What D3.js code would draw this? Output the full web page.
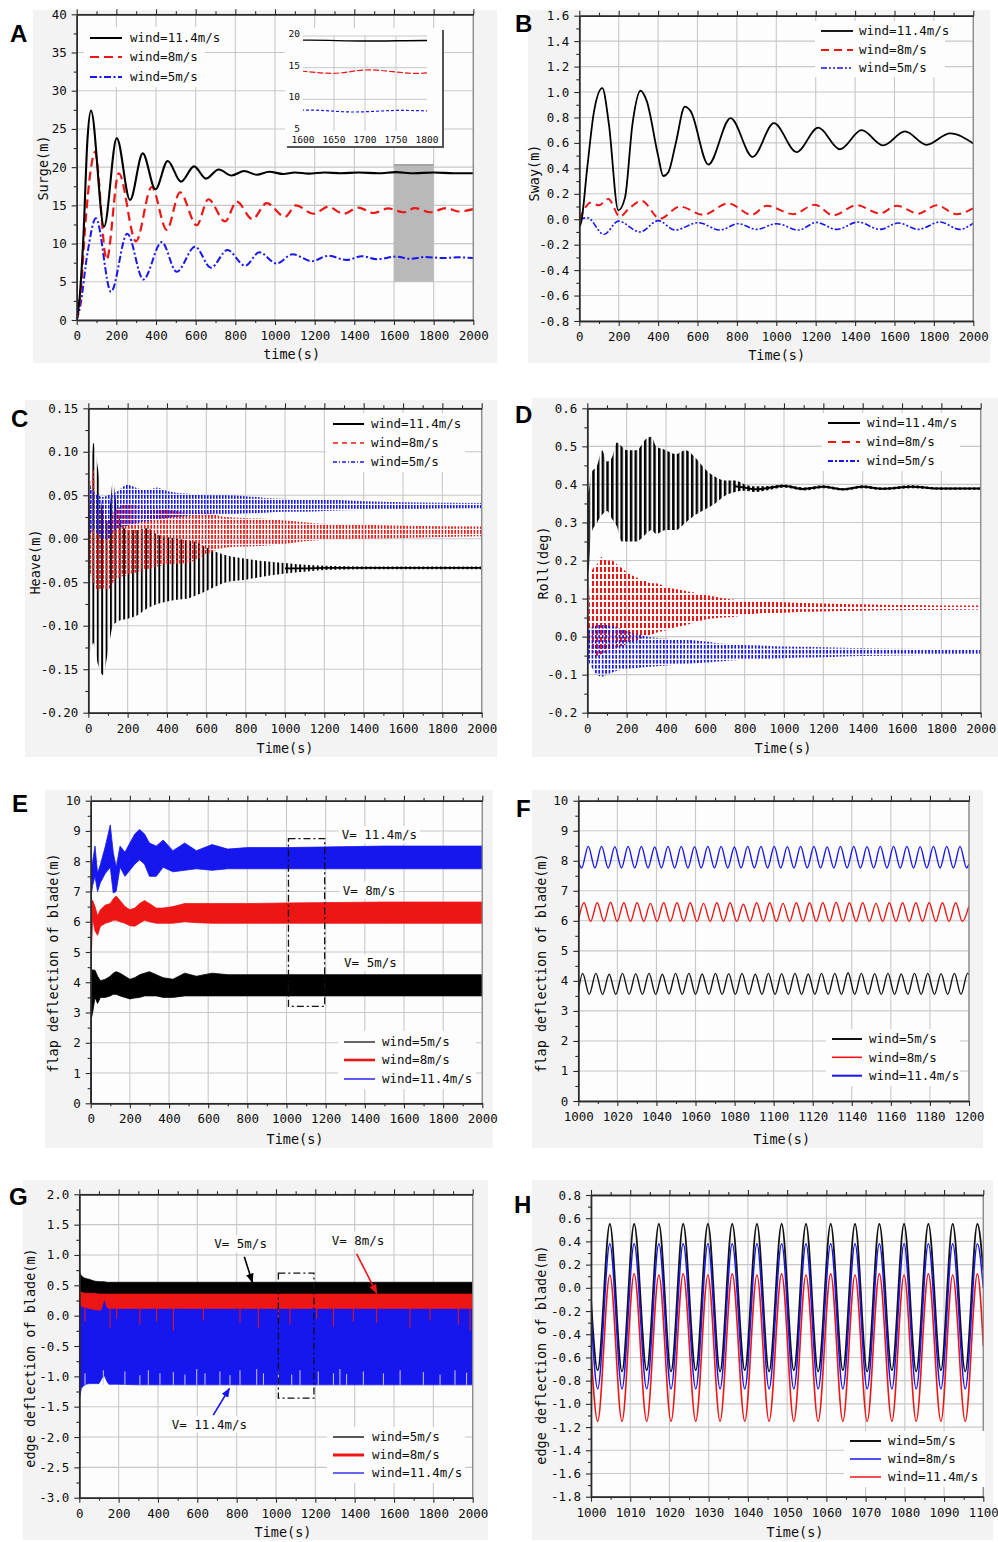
<!DOCTYPE html>
<html>
<head>
<meta charset="utf-8">
<script src="https://cdn.jsdelivr.net/npm/d3@7"></script>
<style>
  body { margin: 0; background: #fff; }
</style>
</head>
<body>
<svg width="998" height="1542"></svg>
<script>
// ---------- data ----------
const windLabels = ["wind=11.4m/s", "wind=8m/s", "wind=5m/s"];
const bladeLabels = ["wind=5m/s", "wind=8m/s", "wind=11.4m/s"];

const timeTicks = [0, 200, 400, 600, 800, 1000, 1200, 1400, 1600, 1800, 2000];
const fTimeTicks = [1000, 1020, 1040, 1060, 1080, 1100, 1120, 1140, 1160, 1180, 1200];
const hTimeTicks = [1000, 1010, 1020, 1030, 1040, 1050, 1060, 1070, 1080, 1090, 1100];
const surgeTicks = [0, 5, 10, 15, 20, 25, 30, 35, 40];
const swayTicks = [-0.8, -0.6, -0.4, -0.2, 0, 0.2, 0.4, 0.6, 0.8, 1.0, 1.2, 1.4, 1.6];
const heaveTicks = [-0.2, -0.15, -0.1, -0.05, 0, 0.05, 0.1, 0.15];
const rollTicks = [-0.2, -0.1, 0, 0.1, 0.2, 0.3, 0.4, 0.5, 0.6];
const flapTicks = [0, 1, 2, 3, 4, 5, 6, 7, 8, 9, 10];
const edgeTicks = [-3, -2.5, -2, -1.5, -1, -0.5, 0, 0.5, 1, 1.5, 2];
const edgeZoomTicks = [-1.8, -1.6, -1.4, -1.2, -1.0, -0.8, -0.6, -0.4, -0.2, 0, 0.2, 0.4, 0.6, 0.8];
const insetXTicks = [1600, 1650, 1700, 1750, 1800];
const insetYTicks = [5, 10, 15, 20];

// A: surge, [time, value] at turning points
const surge11 = [[0,0],[15,3],[34,11],[54,23.5],[72,27.4],[138,12.2],[202,23.8],[269,15.7],[333,21.8],[397,17.1],[459,20.8],[526,18.1],[592,20.1],[652,18.5],[716,19.7],[781,18.9],[845,19.5],[908,19.0],[971,19.4],[1042,19.1],[1100,19.3],[1170,19.15],[1250,19.3],[1330,19.2],[1420,19.3],[1520,19.2],[1610,19.35],[1700,19.2],[1800,19.3],[1900,19.2],[2000,19.2]];
const surge8 = [[0,0],[18,3],[45,13],[70,19.5],[92,22.0],[151,7.9],[212,19.2],[299,10.3],[378,17.4],[454,11.8],[521,16.7],[605,12.4],[664,15.8],[748,12.9],[807,15.5],[886,13.2],[958,15.3],[1050,13.5],[1106,15.0],[1193,13.9],[1269,14.8],[1345,13.9],[1420,14.7],[1496,14.0],[1571,14.6],[1647,14.1],[1706,14.65],[1782,14.1],[1865,14.65],[1924,14.2],[2000,14.5]];
const surge5 = [[0,0],[17,1.7],[54,8.7],[97,13.3],[173,3.7],[255,11.3],[336,5.3],[429,10.2],[504,6.3],[597,9.6],[677,6.85],[760,9.15],[849,7.1],[921,8.85],[1008,7.4],[1089,8.6],[1185,7.7],[1269,8.4],[1361,7.85],[1437,8.35],[1513,7.95],[1613,8.3],[1681,8.0],[1756,8.25],[1849,8.1],[1924,8.2],[2000,8.1]];

// B: sway
const sway11 = [[0,-0.06],[10,-0.02],[40,0.4],[75,0.85],[117,1.03],[150,0.75],[198,0.07],[232,0.17],[270,0.75],[311,1.01],[342,0.93],[400,0.5],[426,0.34],[452,0.37],[490,0.6],[536,0.885],[565,0.85],[655,0.43],[768,0.795],[880,0.49],[988,0.755],[1103,0.528],[1213,0.72],[1323,0.55],[1433,0.70],[1543,0.58],[1653,0.69],[1763,0.585],[1882,0.675],[2000,0.595]];
const sway8 = [[0,0],[30,0.09],[55,0.13],[100,0.11],[147,0.16],[206,0.02],[250,0.08],[316,0.145],[409,0.005],[511,0.10],[629,0.035],[756,0.125],[875,0.035],[951,0.106],[1086,0.04],[1196,0.114],[1289,0.03],[1408,0.11],[1526,0.046],[1611,0.106],[1721,0.044],[1814,0.11],[1915,0.04],[2000,0.086]];
const sway5 = [[0,0],[41,0.012],[125,-0.12],[198,-0.015],[308,-0.10],[401,-0.011],[486,-0.085],[604,-0.027],[714,-0.085],[807,-0.035],[900,-0.08],[1002,-0.035],[1112,-0.085],[1205,-0.025],[1306,-0.08],[1416,-0.022],[1526,-0.08],[1619,-0.03],[1721,-0.08],[1831,-0.022],[1932,-0.08],[2000,-0.03]];

// C: heave, envelope of the fast oscillation
const cT = [0,10,25,50,75,100,125,150,200,250,300,350,400,450,500,550,600,700,800,900,1000,1100,1200,1400,1600,2000];
const cBlackHi = [0.02,0.05,0.11,0.08,0.03,0.02,0.065,0.03,0.01,0.01,0.012,0.005,0.002,0.0,-0.002,-0.004,-0.01,-0.019,-0.023,-0.026,-0.028,-0.03,-0.031,-0.032,-0.032,-0.032];
const cBlackLo = [-0.06,-0.13,-0.12,-0.145,-0.157,-0.13,-0.10,-0.095,-0.092,-0.088,-0.08,-0.075,-0.072,-0.07,-0.069,-0.065,-0.06,-0.05,-0.047,-0.043,-0.04,-0.038,-0.036,-0.035,-0.035,-0.035];
const cRedHi = [0.03,0.06,0.08,0.03,0.04,0.02,0.03,0.035,0.04,0.038,0.035,0.035,0.033,0.032,0.03,0.03,0.03,0.025,0.024,0.023,0.021,0.019,0.017,0.016,0.015,0.014];
const cRedLo = [-0.01,-0.04,-0.05,-0.06,-0.057,-0.059,-0.05,-0.045,-0.042,-0.038,-0.035,-0.032,-0.03,-0.029,-0.028,-0.024,-0.018,-0.01,-0.009,-0.008,-0.006,-0.003,-0.001,0.0,0.001,0.003];
const cBlueHi = [0.07,0.06,0.055,0.05,0.048,0.05,0.052,0.055,0.062,0.058,0.056,0.059,0.055,0.053,0.052,0.051,0.05,0.05,0.049,0.047,0.046,0.045,0.045,0.043,0.042,0.041];
const cBlueLo = [0.0,0.005,0.01,0.005,0.0,0.0,0.008,0.012,0.015,0.018,0.02,0.022,0.024,0.025,0.026,0.027,0.027,0.028,0.029,0.03,0.031,0.031,0.032,0.033,0.034,0.035];

// D: roll envelopes
const dT = [0,5,20,50,75,100,125,150,175,200,250,300,325,350,400,450,500,550,600,650,700,750,800,850,900,1000,1100,1200,1300,1400,1500,1650,1800,2000];
const dBlackHi = [0.38,0.38,0.43,0.45,0.49,0.46,0.47,0.51,0.50,0.49,0.49,0.52,0.525,0.50,0.49,0.48,0.49,0.47,0.44,0.42,0.41,0.41,0.40,0.395,0.395,0.400,0.392,0.398,0.390,0.398,0.392,0.398,0.392,0.392];
const dBlackLo = [0.17,0.17,0.27,0.30,0.32,0.33,0.31,0.29,0.25,0.25,0.25,0.27,0.28,0.27,0.28,0.28,0.30,0.32,0.335,0.35,0.37,0.38,0.383,0.38,0.383,0.392,0.384,0.39,0.384,0.39,0.385,0.39,0.386,0.386];
const dRedHi = [0.02,0.05,0.17,0.19,0.21,0.20,0.20,0.19,0.18,0.17,0.155,0.145,0.14,0.14,0.13,0.125,0.12,0.115,0.11,0.105,0.10,0.097,0.095,0.093,0.092,0.09,0.088,0.087,0.086,0.085,0.084,0.083,0.082,0.082];
const dRedLo = [0.0,-0.01,-0.03,-0.05,-0.045,-0.04,-0.035,-0.03,-0.025,-0.02,-0.01,0.0,0.005,0.01,0.017,0.025,0.03,0.038,0.045,0.048,0.05,0.052,0.056,0.06,0.062,0.063,0.065,0.066,0.067,0.068,0.069,0.07,0.07,0.071];
const dBlueHi = [0.02,0.02,0.025,0.03,0.035,0.03,0.028,0.025,0.02,0.015,0.008,0.0,-0.002,-0.003,-0.005,-0.007,-0.008,-0.01,-0.013,-0.016,-0.019,-0.021,-0.022,-0.023,-0.024,-0.026,-0.027,-0.028,-0.029,-0.03,-0.031,-0.032,-0.033,-0.034];
const dBlueLo = [0.0,-0.06,-0.08,-0.10,-0.105,-0.10,-0.095,-0.09,-0.088,-0.085,-0.083,-0.08,-0.079,-0.078,-0.076,-0.074,-0.072,-0.07,-0.068,-0.066,-0.064,-0.062,-0.061,-0.06,-0.059,-0.057,-0.055,-0.054,-0.052,-0.051,-0.05,-0.049,-0.048,-0.048];

// E: flap deflection envelopes
const eT = [0,3,10,22,35,50,75,100,115,130,150,175,200,225,250,275,300,335,370,420,480,540,620,700,800,1000,1500,2000];
const eBlueHi = [0,7.7,8.0,8.5,7.6,7.9,8.5,9.2,8.3,7.8,8.5,8.3,8.6,8.9,9.05,8.9,8.6,8.5,8.7,8.35,8.6,8.35,8.55,8.4,8.45,8.45,8.5,8.5];
const eBlueLo = [0,6.9,7.2,7.5,7.0,7.3,7.6,7.8,6.95,7.0,7.8,7.5,7.7,7.9,8.05,7.9,7.5,7.5,7.8,7.65,7.7,7.75,7.7,7.75,7.75,7.75,7.75,7.75];
const eRedHi = [0,6.7,6.7,6.5,6.2,6.4,6.55,6.6,6.75,6.85,6.7,6.5,6.4,6.45,6.6,6.7,6.6,6.45,6.45,6.5,6.6,6.6,6.6,6.6,6.6,6.62,6.65,6.65];
const eRedLo = [0,4.9,6.1,5.7,5.55,5.85,5.95,6.0,6.05,6.05,6.0,5.95,5.87,5.85,5.95,6.05,6.0,5.95,5.95,5.95,6.0,5.97,5.95,5.95,5.95,5.95,5.95,5.95];
const eBlackHi = [0,4.45,4.4,4.4,4.2,4.05,4.1,4.2,4.3,4.35,4.3,4.2,4.1,4.15,4.25,4.3,4.35,4.25,4.15,4.1,4.3,4.2,4.3,4.25,4.25,4.25,4.25,4.25];
const eBlackLo = [0,2.8,3.0,3.5,3.3,3.5,3.5,3.55,3.6,3.6,3.55,3.5,3.45,3.48,3.5,3.55,3.55,3.55,3.5,3.5,3.55,3.55,3.55,3.55,3.55,3.55,3.55,3.55];
const eAnnot = ["V= 11.4m/s", "V= 8m/s", "V= 5m/s"];

// F: flap deflection 1000-1200 s, turning points
const fBlack = [[1000,3.6],[1002.2,4.25],[1005.6,3.55],[1009.0,4.25],[1012.4,3.55],[1015.8,4.22],[1019.2,3.55],[1022.6,4.25],[1026.0,3.55],[1029.4,4.24],[1032.8,3.55],[1036.2,4.25],[1039.6,3.55],[1043.0,4.22],[1046.4,3.56],[1049.8,4.25],[1053.2,3.55],[1056.6,4.25],[1060.0,3.55],[1063.4,4.23],[1066.8,3.55],[1070.2,4.25],[1073.6,3.55],[1077.0,4.24],[1080.4,3.55],[1083.8,4.25],[1087.2,3.55],[1090.6,4.22],[1094.0,3.55],[1097.3,4.25],[1100.7,3.55],[1104.1,4.24],[1107.5,3.55],[1110.9,4.25],[1114.3,3.55],[1117.7,4.23],[1121.1,3.55],[1124.5,4.25],[1127.9,3.55],[1131.3,4.25],[1134.7,3.55],[1138.1,4.27],[1141.5,3.55],[1144.9,4.25],[1148.3,3.55],[1151.7,4.24],[1155.1,3.55],[1158.5,4.25],[1161.9,3.55],[1165.3,4.23],[1168.7,3.55],[1172.1,4.25],[1175.5,3.55],[1178.9,4.25],[1182.3,3.55],[1185.7,4.24],[1189.1,3.55],[1192.5,4.25],[1195.9,3.55],[1199.3,4.25],[1200,4.2]];
const fRed = [[1000,6.0],[1002.9,6.6],[1006.3,5.98],[1009.7,6.6],[1013.1,5.98],[1016.5,6.62],[1019.9,5.98],[1023.3,6.6],[1026.7,5.98],[1030.1,6.6],[1033.5,5.98],[1036.9,6.58],[1040.3,5.98],[1043.7,6.6],[1047.1,5.98],[1050.5,6.6],[1053.9,5.98],[1057.3,6.6],[1060.7,5.98],[1064.1,6.58],[1067.5,5.98],[1070.9,6.6],[1074.3,5.98],[1077.7,6.6],[1081.1,5.98],[1084.5,6.55],[1087.9,5.98],[1091.3,6.6],[1094.7,5.98],[1098.0,6.6],[1101.4,5.98],[1104.8,6.58],[1108.2,5.98],[1111.6,6.6],[1115.0,5.98],[1118.4,6.6],[1121.8,5.98],[1125.2,6.6],[1128.6,5.98],[1132.0,6.62],[1135.4,5.98],[1138.8,6.6],[1142.2,5.98],[1145.6,6.6],[1149.0,5.98],[1152.4,6.58],[1155.8,5.98],[1159.2,6.6],[1162.6,5.98],[1166.0,6.6],[1169.4,5.98],[1172.8,6.6],[1176.2,5.98],[1179.6,6.6],[1183.0,5.98],[1186.4,6.6],[1189.8,5.98],[1193.2,6.6],[1196.6,5.98],[1200,6.5]];
const fBlue = [[1000,7.98],[1001.7,7.76],[1005.1,8.48],[1008.5,7.76],[1011.9,8.48],[1015.3,7.76],[1018.7,8.47],[1022.1,7.76],[1025.5,8.48],[1028.9,7.76],[1032.3,8.48],[1035.7,7.76],[1039.1,8.46],[1042.5,7.76],[1045.9,8.48],[1049.3,7.76],[1052.7,8.48],[1056.1,7.76],[1059.5,8.47],[1062.9,7.76],[1066.3,8.48],[1069.7,7.76],[1073.1,8.48],[1076.5,7.76],[1079.9,8.46],[1083.3,7.76],[1086.7,8.48],[1090.1,7.76],[1093.5,8.48],[1096.9,7.76],[1100.3,8.48],[1103.6,7.76],[1107.0,8.47],[1110.4,7.76],[1113.8,8.48],[1117.2,7.76],[1120.6,8.48],[1124.0,7.76],[1127.4,8.46],[1130.8,7.76],[1134.2,8.48],[1137.6,7.76],[1141.0,8.48],[1144.4,7.76],[1147.8,8.47],[1151.2,7.76],[1154.6,8.48],[1158.0,7.76],[1161.4,8.48],[1164.8,7.76],[1168.2,8.48],[1171.6,7.76],[1175.0,8.47],[1178.4,7.76],[1181.8,8.48],[1185.2,7.76],[1188.6,8.48],[1192.0,7.76],[1195.4,8.48],[1198.8,7.76],[1200,7.9]];

// G: edge deflection envelopes
const gT = [0,3,10,20,35,50,75,100,112,127,140,150,200,300,500,1000,2000];
const gBlackHi = [0.75,0.70,0.66,0.63,0.61,0.60,0.57,0.56,0.56,0.56,0.55,0.55,0.55,0.55,0.55,0.55,0.55];
const gBlackLo = [0.45,0.42,0.40,0.39,0.38,0.38,0.38,0.37,0.37,0.37,0.37,0.37,0.37,0.37,0.37,0.37,0.37];
const gRedHi = [0.48,0.45,0.43,0.41,0.40,0.39,0.39,0.385,0.385,0.385,0.38,0.38,0.38,0.38,0.38,0.38,0.38];
const gRedLo = [0.3,0.2,0.16,0.14,0.13,0.12,0.10,0.09,0.1,0.28,0.14,0.12,0.12,0.12,0.12,0.12,0.12];
const gBlueHi = [0.45,0.42,0.4,0.39,0.38,0.38,0.38,0.38,0.38,0.38,0.38,0.38,0.38,0.38,0.38,0.38,0.38];
const gBlueLo = [-1.4,-1.32,-1.2,-1.16,-1.13,-1.12,-1.12,-1.12,-1.05,-0.98,-1.08,-1.13,-1.13,-1.14,-1.14,-1.14,-1.14];
const gLightSpikeT = [29,122,232,308,351,410,478,537,597,639,715,766,817,902,936,1012,1080,1122,1215,1292,1325,1359,1444,1546,1631,1749,1834,1910,1969];
const gLightSpikeTop = [-0.95,-0.9,-0.92,-0.98,-0.9,-0.95,-0.93,-0.97,-0.88,-0.95,-0.92,-0.98,-0.9,-0.88,-0.95,-0.93,-0.97,-0.9,-0.92,-0.95,-0.88,-0.96,-0.92,-0.95,-0.9,-0.93,-0.97,-0.9,-0.94];
const gRedSpikeT = [29,156,190,308,393,478,631,817,910,1012,1071,1207,1292,1393,1512,1681,1783,1927,1986];
const gRedSpikeLow = [-0.1,-0.2,-0.05,-0.15,-0.1,-0.25,-0.08,-0.12,-0.2,-0.1,-0.15,-0.05,-0.18,-0.1,-0.12,-0.2,-0.08,-0.15,-0.25];
const gAnnot = ["V= 5m/s", "V= 8m/s", "V= 11.4m/s"];

// H: edge deflection 1000-1100 s, peaks and troughs
const hPeakT = [1004.8,1011.0,1017.3,1023.5,1029.8,1036.0,1042.3,1048.6,1054.8,1061.1,1067.3,1073.5,1079.8,1086.0,1092.2,1098.5];
const hTroughT = [1001.7,1007.9,1014.2,1020.4,1026.7,1032.9,1039.2,1045.4,1051.7,1057.9,1064.2,1070.4,1076.7,1082.9,1089.2,1095.4];
const hBlackPeak = [0.55,0.55,0.55,0.55,0.55,0.55,0.55,0.55,0.55,0.55,0.55,0.55,0.55,0.55,0.55,0.55];
const hBlackTrough = [-0.71,-0.72,-0.71,-0.72,-0.71,-0.72,-0.71,-0.72,-0.71,-0.72,-0.71,-0.72,-0.71,-0.72,-0.71,-0.72];
const hBluePeak = [0.38,0.38,0.38,0.38,0.38,0.38,0.38,0.38,0.38,0.38,0.38,0.38,0.38,0.38,0.38,0.38];
const hBlueTrough = [-0.87,-0.87,-0.87,-0.87,-0.87,-0.87,-0.87,-0.87,-0.87,-0.87,-0.87,-0.87,-0.87,-0.87,-0.87,-0.87];
const hRedPeak = [0.11,0.12,0.11,0.12,0.11,0.12,0.11,0.12,0.11,0.12,0.11,0.12,0.11,0.12,0.11,0.12];
const hRedTrough = [-1.15,-1.15,-1.15,-1.15,-1.15,-1.15,-1.15,-1.15,-1.15,-1.15,-1.15,-1.15,-1.15,-1.15,-1.15,-1.15];
const hBlackEnds = [-0.1, 0.15];
const hBlueEnds = [-0.2, 0.0];
const hRedEnds = [-0.55, -0.5];

// ---------- drawing ----------
const MONO = '"DejaVu Sans Mono", "Liberation Mono", monospace';
const BLACK = "#000000", RED = "#ee1515", BLUE = "#1616ee";
const INK = "#0d0d0d";
const svg = d3.select("svg");
const defs = svg.append("defs");

const fmt = f => d => d3.format(f)(d).replace("\u2212", "-");
const minorOf = t => t.slice(1).map((v, i) => (v + t[i]) / 2);

function makePanel(p) {
  const g = svg.append("g");
  g.append("rect").attr("x", p.bg[0]).attr("y", p.bg[1])
    .attr("width", p.bg[2] - p.bg[0]).attr("height", p.bg[3] - p.bg[1])
    .attr("fill", "#f3f3f3");
  const x = d3.scaleLinear().domain(p.xDomain).range([p.left, p.right]);
  const y = d3.scaleLinear().domain(p.yDomain).range([p.bottom, p.top]);
  g.append("rect").attr("x", p.left).attr("y", p.top)
    .attr("width", p.right - p.left).attr("height", p.bottom - p.top)
    .attr("fill", "#fdfdfd");

  const grid = g.append("g").attr("stroke", "#c8c8c8").attr("stroke-width", 1.1);
  grid.selectAll(".gx").data(p.xTicks).join("line").attr("class", "gx")
    .attr("x1", d => x(d)).attr("x2", d => x(d)).attr("y1", p.top).attr("y2", p.bottom);
  grid.selectAll(".gy").data(p.yTicks).join("line").attr("class", "gy")
    .attr("y1", d => y(d)).attr("y2", d => y(d)).attr("x1", p.left).attr("x2", p.right);

  const cid = "clip" + p.letter;
  defs.append("clipPath").attr("id", cid).append("rect")
    .attr("x", p.left).attr("y", p.top).attr("width", p.right - p.left).attr("height", p.bottom - p.top);
  const plot = g.append("g").attr("clip-path", `url(#${cid})`);

  const axes = g.append("g");
  function ax(fn, scale, vals, size, format, tr, pad) {
    const a = axes.append("g").attr("transform", tr)
      .call(fn(scale).tickValues(vals).tickSize(size).tickSizeOuter(0).tickPadding(pad)
        .tickFormat(format || (() => "")));
    a.select(".domain").attr("stroke", "#2a2a2a").attr("stroke-width", 1.4);
    a.selectAll(".tick line").attr("stroke", "#2a2a2a").attr("stroke-width", 1.1);
    a.selectAll("text").attr("font-family", MONO).attr("font-size", 12.5).attr("fill", INK);
  }
  axes.append("line").attr("x1", p.right).attr("x2", p.right).attr("y1", p.top).attr("y2", p.bottom)
    .attr("stroke", "#8a8a8a").attr("stroke-width", 1.3);
  ax(d3.axisBottom, x, minorOf(p.xTicks), 3, null, `translate(0,${p.bottom})`, 4);
  ax(d3.axisBottom, x, p.xTicks, 5, p.xFmt, `translate(0,${p.bottom})`, 6);
  ax(d3.axisTop, x, minorOf(p.xTicks), 3, null, `translate(0,${p.top})`, 4);
  ax(d3.axisTop, x, p.xTicks, 5, null, `translate(0,${p.top})`, 4);
  ax(d3.axisLeft, y, minorOf(p.yTicks), 3, null, `translate(${p.left},0)`, 4);
  ax(d3.axisLeft, y, p.yTicks, 5, p.yFmt, `translate(${p.left},0)`, 5);

  g.append("text").attr("x", p.xTitle[0]).attr("y", p.xTitle[1]).attr("dy", "0.35em")
    .attr("text-anchor", "middle").attr("font-family", MONO).attr("font-size", 13.5)
    .attr("fill", INK).text(p.xLabel);
  g.append("text").attr("transform", `translate(${p.yTitle[0]},${p.yTitle[1]}) rotate(-90)`)
    .attr("dy", "0.35em").attr("text-anchor", "middle").attr("font-family", MONO)
    .attr("font-size", 13.5).attr("fill", INK).text(p.yLabel);
  g.append("text").attr("x", p.letterPos[0]).attr("y", p.letterPos[1])
    .attr("font-family", '"Liberation Sans", Arial, sans-serif').attr("font-weight", "bold")
    .attr("font-size", 24).attr("fill", "#000").text(p.letter);
  return { g, plot, x, y };
}

function drawLine(P, data, color, width, dash, target) {
  const line = d3.line().x(d => P.x(d[0])).y(d => P.y(d[1])).curve(d3.curveMonotoneX);
  (target || P.plot).append("path").datum(data).attr("d", line)
    .attr("fill", "none").attr("stroke", color).attr("stroke-width", width)
    .attr("stroke-linejoin", "round").attr("stroke-dasharray", dash || null);
}

function drawBand(P, t, hi, lo, fill, curve, edge) {
  const rows = t.map((d, i) => ({ t: d, hi: hi[i], lo: lo[i] }));
  const area = d3.area().x(d => P.x(d.t)).y0(d => P.y(d.lo)).y1(d => P.y(d.hi))
    .curve(curve || d3.curveLinear);
  const path = P.plot.append("path").datum(rows).attr("d", area).attr("fill", fill);
  if (edge) path.attr("stroke", edge).attr("stroke-width", 0.8);
  return rows;
}

// settled part of a band: a thin line through its middle
function drawMid(P, rows, color, width, fromT) {
  const line = d3.line().x(d => P.x(d.t)).y(d => P.y((d.hi + d.lo) / 2)).curve(d3.curveMonotoneX);
  P.plot.append("path").datum(rows.filter(d => d.t >= fromT)).attr("d", line).attr("fill", "none")
    .attr("stroke", color).attr("stroke-width", width);
}

function legend(g, box, x0, x1, xt, ys, items) {
  g.append("rect").attr("x", box[0]).attr("y", box[1])
    .attr("width", box[2] - box[0]).attr("height", box[3] - box[1]).attr("fill", "#fdfdfd");
  items.forEach((it, i) => {
    g.append("line").attr("x1", x0).attr("x2", x1).attr("y1", ys[i]).attr("y2", ys[i])
      .attr("stroke", it.color).attr("stroke-width", it.width).attr("stroke-dasharray", it.dash || null);
    g.append("text").attr("x", xt).attr("y", ys[i]).attr("dy", "0.35em")
      .attr("font-family", MONO).attr("font-size", 12.5).attr("fill", INK).text(it.label);
  });
}

function note(P, t, v, label) {
  const txt = P.g.append("text").attr("x", P.x(t)).attr("y", P.y(v)).attr("dy", "0.35em")
    .attr("font-family", MONO).attr("font-size", 12.5).attr("fill", INK).text(label);
  const b = txt.node().getBBox();
  P.g.insert("rect", () => txt.node()).attr("x", b.x - 3).attr("y", b.y - 1)
    .attr("width", b.width + 6).attr("height", b.height + 2).attr("fill", "#fdfdfd");
}

function stripes(id, color, w, sw, h, dh) {
  const pat = defs.append("pattern").attr("id", id).attr("patternUnits", "userSpaceOnUse")
    .attr("width", w).attr("height", h);
  pat.append("rect").attr("x", 0).attr("y", 0).attr("width", sw).attr("height", dh).attr("fill", color);
}
stripes("cBlackS", BLACK, 4.4, 1.9, 10, 10);
stripes("cRedS", RED, 3.2, 1.6, 5, 3.8);
stripes("cBlueS", BLUE, 3.0, 1.6, 5, 3.8);
stripes("dBlackS", BLACK, 4.7, 2.5, 10, 10);
stripes("dRedS", RED, 4.0, 2.0, 7, 5);
stripes("dBlueS", BLUE, 3.4, 1.7, 5, 3.6);

function arrowMarker(id, color) {
  defs.append("marker").attr("id", id).attr("viewBox", "0 0 10 10").attr("refX", 9).attr("refY", 5)
    .attr("markerWidth", 6).attr("markerHeight", 6).attr("orient", "auto")
    .append("path").attr("d", "M0,1L10,5L0,9z").attr("fill", color);
}
arrowMarker("arrK", BLACK);
arrowMarker("arrR", RED);
arrowMarker("arrB", BLUE);

const timeFmt = d => String(d);

// ---------- A ----------
const A = makePanel({ letter: "A", letterPos: [10, 42], bg: [33, 10, 497, 363],
  left: 76.7, right: 473.3, top: 14.3, bottom: 320,
  xDomain: [0, 2000], yDomain: [0, 40], xTicks: timeTicks, yTicks: surgeTicks,
  xFmt: timeFmt, yFmt: d => String(d), xLabel: "time(s)", yLabel: "Surge(m)",
  xTitle: [291.7, 354], yTitle: [43, 168] });
A.plot.append("rect").attr("x", A.x(1600)).attr("width", A.x(1800) - A.x(1600))
  .attr("y", A.y(20.3)).attr("height", A.y(5) - A.y(20.3)).attr("fill", "#b9b9b9");
A.plot.append("line").attr("x1", A.x(1600)).attr("x2", A.x(1800)).attr("y1", A.y(20.3)).attr("y2", A.y(20.3))
  .attr("stroke", "#8c8c8c").attr("stroke-width", 1.2);
drawLine(A, surge5, BLUE, 2, "7,2.5,2,2.5");
drawLine(A, surge8, RED, 2.2, "9,5");
drawLine(A, surge11, BLACK, 2.1);
legend(A.g, [84, 27, 205, 87], 90, 122, 130, [38, 57, 77], [
  { label: windLabels[0], color: BLACK, width: 2 },
  { label: windLabels[1], color: RED, width: 2, dash: "9,5" },
  { label: windLabels[2], color: BLUE, width: 2, dash: "7,2.5,2,2.5" }]);

// inset
{
  const ig = A.g.append("g");
  ig.append("rect").attr("x", 287).attr("y", 30).attr("width", 157).attr("height", 118).attr("fill", "#555");
  ig.append("rect").attr("x", 285).attr("y", 28).attr("width", 157).attr("height", 118).attr("fill", "#fdfdfd");
  const xi = d3.scaleLinear().domain([1600, 1800]).range([303, 427]);
  const yi = d3.scaleLinear().domain([5, 20]).range([131, 36]);
  ig.selectAll(".ivx").data(insetXTicks.slice(1, -1)).join("line").attr("class", "ivx")
    .attr("x1", d => xi(d)).attr("x2", d => xi(d)).attr("y1", 36).attr("y2", 131)
    .attr("stroke", "#c8c8c8");
  ig.selectAll(".ihy").data(insetYTicks.slice(1)).join("line").attr("class", "ihy")
    .attr("y1", d => yi(d)).attr("y2", d => yi(d)).attr("x1", 303).attr("x2", 427)
    .attr("stroke", "#c8c8c8");
  ig.selectAll(".ixl").data(insetXTicks).join("text").attr("class", "ixl")
    .attr("x", d => xi(d)).attr("y", 140).attr("dy", "0.35em").attr("text-anchor", "middle")
    .attr("font-family", MONO).attr("font-size", 9.5).attr("fill", INK).text(d => d);
  ig.selectAll(".iyl").data(insetYTicks).join("text").attr("class", "iyl")
    .attr("x", 300).attr("y", d => yi(d)).attr("dy", "0.1em").attr("text-anchor", "end")
    .attr("font-family", MONO).attr("font-size", 9.5).attr("fill", INK).text(d => d);
  defs.append("clipPath").attr("id", "clipInset").append("rect")
    .attr("x", 303).attr("y", 30).attr("width", 124).attr("height", 105);
  const ip = ig.append("g").attr("clip-path", "url(#clipInset)");
  const IP = { x: xi, y: yi, plot: ip };
  drawLine(IP, surge11, BLACK, 1.4);
  drawLine(IP, surge8, RED, 1.2, "6,2");
  drawLine(IP, surge5, BLUE, 1.2, "3,2");
}

// ---------- B ----------
const B = makePanel({ letter: "B", letterPos: [515, 32], bg: [528, 10, 990, 363],
  left: 579.3, right: 973.3, top: 15.7, bottom: 321,
  xDomain: [0, 2000], yDomain: [-0.8, 1.6], xTicks: timeTicks, yTicks: swayTicks,
  xFmt: timeFmt, yFmt: fmt(".1f"), xLabel: "Time(s)", yLabel: "Sway(m)",
  xTitle: [776.7, 355], yTitle: [534, 173] });
drawLine(B, sway5, BLUE, 1.6, "6,2,2,2,2,2");
drawLine(B, sway8, RED, 2, "8,5");
drawLine(B, sway11, BLACK, 1.8);
legend(B.g, [815, 21, 945, 77], 821, 853, 859, [31, 50, 68], [
  { label: windLabels[0], color: BLACK, width: 1.8 },
  { label: windLabels[1], color: RED, width: 2, dash: "8,5" },
  { label: windLabels[2], color: BLUE, width: 1.6, dash: "6,2,2,2,2,2" }]);

// ---------- C ----------
const C = makePanel({ letter: "C", letterPos: [11, 427], bg: [25, 400, 497, 757],
  left: 88.3, right: 481.7, top: 408.3, bottom: 712.7,
  xDomain: [0, 2000], yDomain: [-0.2, 0.15], xTicks: timeTicks, yTicks: heaveTicks,
  xFmt: timeFmt, yFmt: fmt(".2f"), xLabel: "Time(s)", yLabel: "Heave(m)",
  xTitle: [285, 748], yTitle: [35, 562] });
const cbk = drawBand(C, cT, cBlackHi, cBlackLo, "url(#cBlackS)", d3.curveMonotoneX);
drawMid(C, cbk, BLACK, 1.6, 1000);
drawBand(C, cT, cRedHi, cRedLo, "url(#cRedS)", d3.curveMonotoneX);
drawBand(C, cT, cBlueHi, cBlueLo, "url(#cBlueS)", d3.curveMonotoneX);
legend(C.g, [326, 413, 465, 472], 333, 364, 371, [424, 443, 462], [
  { label: windLabels[0], color: BLACK, width: 2 },
  { label: windLabels[1], color: RED, width: 1.3, dash: "5,4" },
  { label: windLabels[2], color: BLUE, width: 1.3, dash: "4,2,1,2" }]);

// ---------- D ----------
const D = makePanel({ letter: "D", letterPos: [515, 423], bg: [532, 398, 998, 757],
  left: 587.3, right: 980.7, top: 408.3, bottom: 712.7,
  xDomain: [0, 2000], yDomain: [-0.2, 0.6], xTicks: timeTicks, yTicks: rollTicks,
  xFmt: timeFmt, yFmt: fmt(".1f"), xLabel: "Time(s)", yLabel: "Roll(deg)",
  xTitle: [783, 748], yTitle: [543, 563] });
const dbk = drawBand(D, dT, dBlackHi, dBlackLo, "url(#dBlackS)", d3.curveMonotoneX);
drawMid(D, dbk, BLACK, 2, 750);
drawBand(D, dT, dRedHi, dRedLo, "url(#dRedS)", d3.curveMonotoneX);
drawBand(D, dT, dBlueHi, dBlueLo, "url(#dBlueS)", d3.curveMonotoneX);
legend(D.g, [822, 413, 960, 471], 828, 860, 867, [423, 442, 461], [
  { label: windLabels[0], color: BLACK, width: 2 },
  { label: windLabels[1], color: RED, width: 2, dash: "8,6" },
  { label: windLabels[2], color: BLUE, width: 2, dash: "5,2,2,2" }]);

// ---------- E ----------
const E = makePanel({ letter: "E", letterPos: [12, 812], bg: [45, 790, 493, 1148],
  left: 90.7, right: 482.3, top: 800.7, bottom: 1103.3,
  xDomain: [0, 2000], yDomain: [0, 10], xTicks: timeTicks, yTicks: flapTicks,
  xFmt: timeFmt, yFmt: d => String(d), xLabel: "Time(s)", yLabel: "flap deflection of blade(m)",
  xTitle: [295, 1139], yTitle: [53, 963] });
drawBand(E, eT, eBlackHi, eBlackLo, BLACK, d3.curveLinear, BLACK);
drawBand(E, eT, eRedHi, eRedLo, RED, d3.curveLinear, RED);
drawBand(E, eT, eBlueHi, eBlueLo, BLUE, d3.curveLinear, BLUE);
E.g.append("rect").attr("x", E.x(1010)).attr("width", E.x(1195) - E.x(1010))
  .attr("y", E.y(8.75)).attr("height", E.y(3.2) - E.y(8.75))
  .attr("fill", "none").attr("stroke", "#111").attr("stroke-width", 1.3).attr("stroke-dasharray", "7,3,2,3");
note(E, 1282, 8.87, eAnnot[0]);
note(E, 1287, 7.03, eAnnot[1]);
note(E, 1294, 4.64, eAnnot[2]);
legend(E.g, [338, 1031, 476, 1089], 344, 375, 382, [1042, 1060, 1079], [
  { label: bladeLabels[0], color: BLACK, width: 1.2 },
  { label: bladeLabels[1], color: RED, width: 2.6 },
  { label: bladeLabels[2], color: BLUE, width: 1.4 }]);

// ---------- F ----------
const F = makePanel({ letter: "F", letterPos: [516, 817], bg: [532, 790, 983, 1148],
  left: 578.3, right: 969, top: 800.7, bottom: 1101,
  xDomain: [1000, 1200], yDomain: [0, 10], xTicks: fTimeTicks, yTicks: flapTicks,
  xFmt: timeFmt, yFmt: d => String(d), xLabel: "Time(s)", yLabel: "flap deflection of blade(m)",
  xTitle: [781.7, 1139], yTitle: [541.7, 963] });
drawLine(F, fBlack, "#111", 1.4);
drawLine(F, fRed, RED, 1.4);
drawLine(F, fBlue, BLUE, 1.4);
legend(F.g, [826, 1029, 960, 1086], 832, 862, 869, [1039, 1057.3, 1075.7], [
  { label: bladeLabels[0], color: "#111", width: 2 },
  { label: bladeLabels[1], color: RED, width: 1.6 },
  { label: bladeLabels[2], color: BLUE, width: 2 }]);

// ---------- G ----------
const G = makePanel({ letter: "G", letterPos: [9, 1205], bg: [23, 1180, 488, 1540],
  left: 79.3, right: 472.7, top: 1194.3, bottom: 1497.7,
  xDomain: [0, 2000], yDomain: [-3, 2], xTicks: timeTicks, yTicks: edgeTicks,
  xFmt: timeFmt, yFmt: fmt(".1f"), xLabel: "Time(s)", yLabel: "edge deflection of blade(m)",
  xTitle: [283, 1532.7], yTitle: [30.7, 1358] });
drawBand(G, gT, gBlueHi, gBlueLo, BLUE, d3.curveLinear, BLUE);
G.plot.selectAll(".ls").data(gLightSpikeT).join("line").attr("class", "ls")
  .attr("x1", d => G.x(d)).attr("x2", d => G.x(d))
  .attr("y1", G.y(-1.14)).attr("y2", (d, i) => G.y(gLightSpikeTop[i]))
  .attr("stroke", "#c9c9ee").attr("stroke-width", 1);
drawBand(G, gT, gRedHi, gRedLo, RED, d3.curveLinear, RED);
G.plot.selectAll(".rs").data(gRedSpikeT).join("line").attr("class", "rs")
  .attr("x1", d => G.x(d)).attr("x2", d => G.x(d))
  .attr("y1", G.y(0.12)).attr("y2", (d, i) => G.y(gRedSpikeLow[i]))
  .attr("stroke", RED).attr("stroke-width", 1);
drawBand(G, gT, gBlackHi, gBlackLo, BLACK, d3.curveLinear, BLACK);
G.g.append("rect").attr("x", G.x(1012)).attr("width", G.x(1193) - G.x(1012))
  .attr("y", G.y(0.70)).attr("height", G.y(-1.36) - G.y(0.70))
  .attr("fill", "none").attr("stroke", "#111").attr("stroke-width", 1.3).attr("stroke-dasharray", "7,3,2,3");
note(G, 686, 1.18, gAnnot[0]);
note(G, 1283, 1.24, gAnnot[1]);
note(G, 470, -1.79, gAnnot[2]);
const arrow = (t0, v0, t1, v1, color, mid) => G.g.append("line")
  .attr("x1", G.x(t0)).attr("y1", G.y(v0)).attr("x2", G.x(t1)).attr("y2", G.y(v1))
  .attr("stroke", color).attr("stroke-width", 1.6).attr("marker-end", `url(#${mid})`);
arrow(839, 0.97, 880, 0.55, BLACK, "arrK");
arrow(1410, 1.02, 1512, 0.37, RED, "arrR");
arrow(681, -1.64, 763, -1.20, BLUE, "arrB");
legend(G.g, [327, 1427, 465, 1483], 333, 364, 372, [1437, 1455, 1473], [
  { label: bladeLabels[0], color: BLACK, width: 1.3 },
  { label: bladeLabels[1], color: RED, width: 3 },
  { label: bladeLabels[2], color: BLUE, width: 1.3 }]);

// ---------- H ----------
const H = makePanel({ letter: "H", letterPos: [514, 1213], bg: [532, 1180, 993, 1540],
  left: 591, right: 983.3, top: 1195, bottom: 1496.7,
  xDomain: [1000, 1100], yDomain: [-1.8, 0.8], xTicks: hTimeTicks, yTicks: edgeZoomTicks,
  xFmt: timeFmt, yFmt: fmt(".1f"), xLabel: "Time(s)", yLabel: "edge deflection of blade(m)",
  xTitle: [795, 1532.7], yTitle: [541.7, 1355] });
function turning(ends, peakV, troughV) {
  const pts = [[1000, ends[0]], [1100, ends[1]]];
  hPeakT.forEach((t, i) => pts.push([t, peakV[i]]));
  hTroughT.forEach((t, i) => pts.push([t, troughV[i]]));
  return pts.sort((a, b) => a[0] - b[0]);
}
drawLine(H, turning(hRedEnds, hRedPeak, hRedTrough), RED, 1.6);
drawLine(H, turning(hBlackEnds, hBlackPeak, hBlackTrough), "#111", 1.8);
drawLine(H, turning(hBlueEnds, hBluePeak, hBlueTrough), BLUE, 1.5);
legend(H.g, [844, 1431, 985, 1487], 850, 881, 888, [1441, 1459, 1477], [
  { label: bladeLabels[0], color: "#111", width: 2 },
  { label: bladeLabels[1], color: BLUE, width: 1.5 },
  { label: bladeLabels[2], color: RED, width: 1.5 }]);
</script>
</body>
</html>
